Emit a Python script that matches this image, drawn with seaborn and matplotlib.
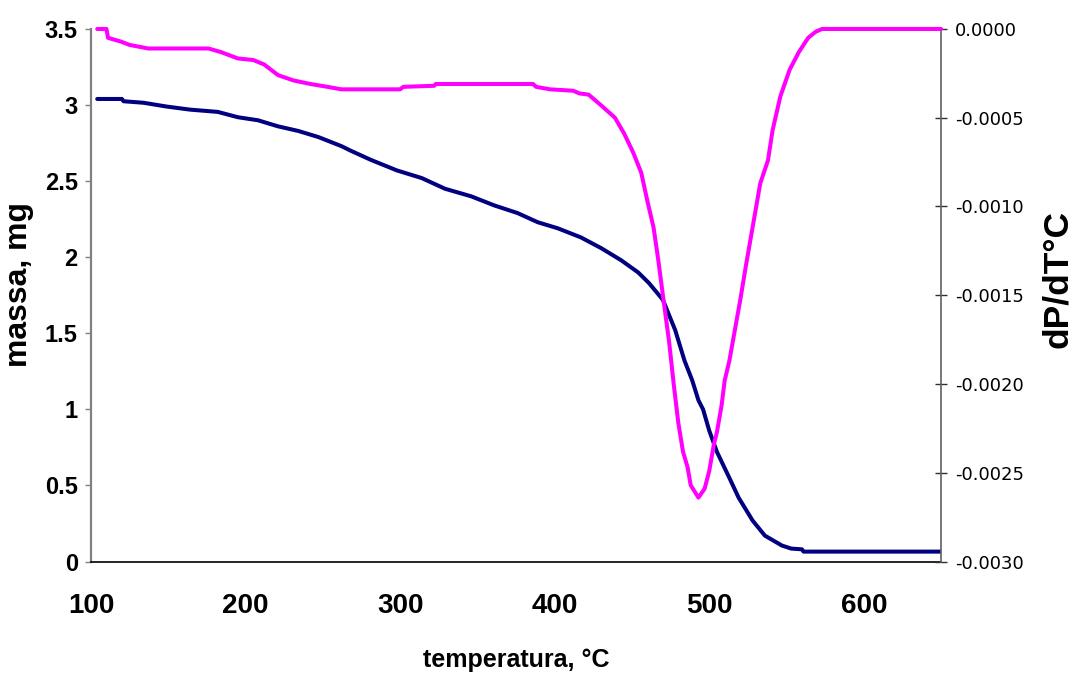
import matplotlib
matplotlib.use("Agg")
import matplotlib.pyplot as plt
import seaborn as sns
from matplotlib.ticker import FixedLocator, FuncFormatter

# Thermogravimetric curve: sample mass vs temperature
mass_temp = [104, 120, 121, 134, 149, 164, 182, 195, 208, 221, 234, 247, 262, 268,
             281, 298, 314, 329, 346, 361, 376, 389, 402, 417, 430, 443, 454, 461,
             470, 478, 484, 489, 493, 496, 500, 505, 513, 519, 528, 536, 547, 553,
             560, 561, 650]
mass_mg = [3.04, 3.04, 3.025, 3.015, 2.99, 2.97, 2.955, 2.92, 2.90, 2.86, 2.83, 2.79,
           2.73, 2.70, 2.64, 2.57, 2.52, 2.45, 2.40, 2.34, 2.29, 2.23, 2.19, 2.13,
           2.06, 1.98, 1.90, 1.83, 1.72, 1.52, 1.32, 1.19, 1.06, 1.00, 0.86, 0.72,
           0.55, 0.42, 0.27, 0.17, 0.105, 0.085, 0.08, 0.065, 0.065]

# Derivative curve dP/dT
dtg_temp = [104, 110, 111, 119, 125, 137, 176, 184, 195, 205, 212, 221, 231, 242,
            253, 262, 300, 302, 322, 323, 386, 388, 397, 412, 416, 422, 430, 439,
            445, 451, 456, 460, 464, 467, 470, 474, 477, 480, 483, 486, 488, 493,
            497, 500, 503, 505, 508, 510, 513, 520, 524, 528, 533, 538, 541, 546,
            552, 558, 564, 569, 573, 650]
dtg_val = [0.0, 0.0, -0.00005, -0.00007, -0.00009, -0.00011, -0.00011, -0.00013,
           -0.000166, -0.000175, -0.0002, -0.00026, -0.00029, -0.00031, -0.000326,
           -0.00034, -0.00034, -0.000326, -0.00032, -0.00031, -0.00031, -0.000326,
           -0.00034, -0.000348, -0.000363, -0.00037, -0.00043, -0.0005, -0.00059,
           -0.0007, -0.00081, -0.00097, -0.00112, -0.0013, -0.0015, -0.00176,
           -0.0020, -0.00222, -0.00238, -0.00247, -0.00257, -0.00264, -0.00259,
           -0.00249, -0.00234, -0.00227, -0.00212, -0.00198, -0.00187, -0.00153,
           -0.00132, -0.00112, -0.00087, -0.00074, -0.00057, -0.00038, -0.00023,
           -0.00013, -0.00005, -0.000015, 0.0, 0.0]

x_ticks = [100, 200, 300, 400, 500, 600]
left_ticks = [0, 0.5, 1, 1.5, 2, 2.5, 3, 3.5]
right_ticks = [-0.0030, -0.0025, -0.0020, -0.0015, -0.0010, -0.0005, 0.0]

sns.set_style("white")
plt.rcParams["font.family"] = ["Liberation Sans", "DejaVu Sans"]
plt.rcParams["axes.unicode_minus"] = False
plt.rcParams["text.color"] = "black"
plt.rcParams["axes.labelcolor"] = "black"
plt.rcParams["xtick.labelcolor"] = "black"
plt.rcParams["ytick.labelcolor"] = "black"

fig = plt.figure(figsize=(10.76, 6.77), dpi=100)
ax = fig.add_axes([0.0846, 0.1706, 0.79, 0.7866])
ax2 = ax.twinx()

sns.lineplot(x=mass_temp, y=mass_mg, ax=ax, color="#000080", linewidth=2.9,
             estimator=None, sort=False, zorder=3)
sns.lineplot(x=dtg_temp, y=dtg_val, ax=ax2, color="#FF00FF", linewidth=2.9,
             estimator=None, sort=False, clip_on=False, zorder=3)

ax.set_xlim(100, 650)
ax.set_ylim(0, 3.5)
ax2.set_ylim(-0.0030, 0.0)

ax.xaxis.set_major_locator(FixedLocator(x_ticks))
ax.yaxis.set_major_locator(FixedLocator(left_ticks))
ax.yaxis.set_major_formatter(FuncFormatter(lambda v, p: f"{v:g}"))
ax2.yaxis.set_major_locator(FixedLocator(right_ticks))
ax2.yaxis.set_major_formatter(FuncFormatter(lambda v, p: f"{v:.4f}" if v < -1e-9 else "0.0000"))

for a in (ax, ax2):
    a.spines["top"].set_visible(False)
ax.spines["left"].set_color("#808080")
ax.spines["left"].set_linewidth(1.6)
ax.spines["bottom"].set_color("black")
ax.spines["bottom"].set_linewidth(1.2)
ax.spines["right"].set_visible(False)
ax2.spines["left"].set_visible(False)
ax2.spines["bottom"].set_visible(False)
ax2.spines["right"].set_color("#606060")
ax2.spines["right"].set_linewidth(1.2)

ax.tick_params(axis="x", direction="out", length=7, width=1.5, color="#808080",
               pad=16, labelsize=20, labelcolor="black")
ax.tick_params(axis="y", direction="out", length=4.5, width=1.0, color="#808080",
               pad=5, labelsize=17, labelcolor="black")
for lab in ax.get_xticklabels() + ax.get_yticklabels():
    lab.set_fontweight("bold")
ax2.tick_params(axis="y", direction="inout", length=8.5, width=1.0, color="#303030",
                pad=6, labelsize=13, labelcolor="black")
for lab in ax2.get_yticklabels():
    lab.set_family(["DejaVu Sans"])

ax.set_xlabel("temperatura, °C", fontsize=18, fontweight="bold", color="black")
ax.xaxis.set_label_coords(0.5, -0.163)
ax.set_ylabel("massa, mg", fontsize=23, fontweight="bold", color="black")
ax.yaxis.set_label_coords(-0.067, 0.52)
ax2.set_ylabel("dP/dT°C", fontsize=25.5, fontweight="bold", color="black")
ax2.yaxis.set_label_coords(1.118, 0.53)

fig.savefig("out.png", dpi=100)
